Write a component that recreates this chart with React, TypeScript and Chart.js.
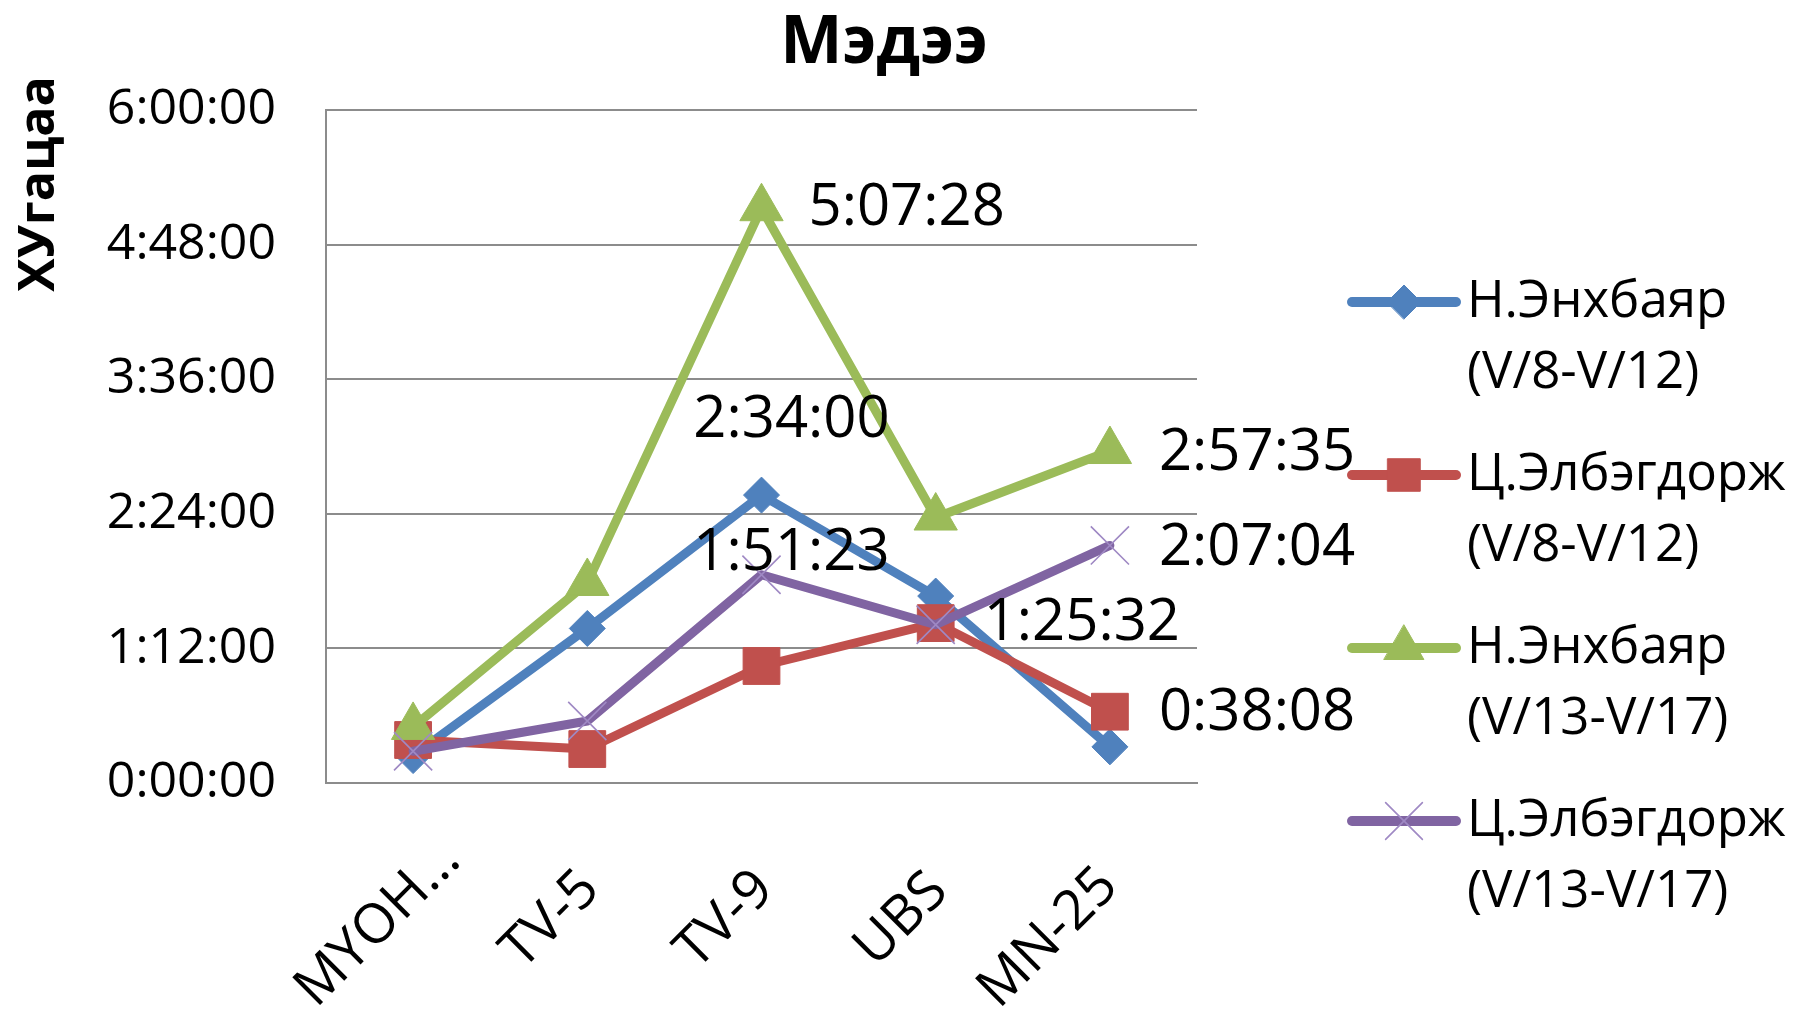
import React, { useEffect, useRef } from 'react';
import { Chart, registerables } from 'chart.js';
import { drawPoint } from 'chart.js/helpers';

Chart.register(...registerables);

// ---------- data (values in seconds) ----------
const chartTitle = 'Мэдээ';
const yAxisTitle = 'ХУгацаа';
const categories = ['МҮОН...', 'TV-5', 'TV-9', 'UBS', 'MN-25'];
const seriesNameLines = [
  ['Н.Энхбаяр', '(V/8-V/12)'],
  ['Ц.Элбэгдорж', '(V/8-V/12)'],
  ['Н.Энхбаяр', '(V/13-V/17)'],
  ['Ц.Элбэгдорж', '(V/13-V/17)'],
];
const enkhbayarA = [880, 4960, 9240, 6000, 1160];
const elbegdorjA = [1380, 1090, 3755, 5132, 2288];
const enkhbayarB = [1800, 6420, 18448, 8520, 10655];
const elbegdorjB = [1020, 1990, 6683, 5080, 7624];
const yTickValues = [0, 4320, 8640, 12960, 17280, 21600];
// data labels: [series index, category index]
const labelledPoints = [
  [2, 2], [0, 2], [3, 2], [2, 4], [3, 4], [1, 3], [1, 4],
];

// ---------- styles ----------
const FONT = '"Open Sans", "Liberation Sans", sans-serif';
const colors = ['#4F81BD', '#C0504D', '#9BBB59', '#8064A2'];
const pointStyles = ['rectRot', 'rect', 'triangle', 'crossRot'];
const pointRadii = [18, 26, 25, 27];
const pointBorderWidths = [1, 1, 1, 1.6];
const legendRadii = [17, 23, 23, 26];
const labelOffsets = [
  { dx: 47, dy: 0, align: 'left' },
  { dx: 30, dy: -75, align: 'center' },
  { dx: 30, dy: -21, align: 'center' },
  { dx: 49, dy: 2, align: 'left' },
  { dx: 49, dy: 3, align: 'left' },
  { dx: 48, dy: 0, align: 'left' },
  { dx: 49, dy: 2, align: 'left' },
];
const xLabelShifts = [[15, -27], [-20, 2], [-20, 2], [-20, 4], [-24, -1]];

const fmt = (s: number) => {
  const h = Math.floor(s / 3600);
  const m = Math.floor((s % 3600) / 60);
  const sec = Math.round(s % 60);
  return `${h}:${String(m).padStart(2, '0')}:${String(sec).padStart(2, '0')}`;
};

const decorPlugin = {
  id: 'decor',
  afterDatasetsDraw(chart: any) {
    const ctx = chart.ctx;
    ctx.save();
    ctx.fillStyle = '#000';
    ctx.font = `58px ${FONT}`;
    ctx.textBaseline = 'middle';
    labelledPoints.forEach(([ds, i], k) => {
      const pt = chart.getDatasetMeta(ds).data[i];
      const v = chart.data.datasets[ds].data[i];
      const o = labelOffsets[k];
      ctx.textAlign = o.align;
      ctx.fillText(fmt(v), pt.x + o.dx, pt.y + o.dy);
    });
    ctx.restore();
  },
  afterDraw(chart: any) {
    const ctx = chart.ctx;
    ctx.save();
    ctx.fillStyle = '#000';
    // category labels, rotated
    const xs = chart.scales.x;
    ctx.font = `55px ${FONT}`;
    ctx.textAlign = 'right';
    ctx.textBaseline = 'middle';
    chart.data.labels.forEach((c: string, i: number) => {
      const x = xs.getPixelForValue(i);
      ctx.save();
      ctx.translate(x + xLabelShifts[i][0], xs.top + 72 + xLabelShifts[i][1]);
      ctx.rotate(-Math.PI / 4);
      ctx.fillText(c, 0, 33);
      ctx.restore();
    });
    // title
    ctx.font = `bold 66px ${FONT}`;
    ctx.textAlign = 'center';
    ctx.textBaseline = 'middle';
    ctx.fillText(chartTitle, 884, 44);
    // y axis title
    ctx.save();
    ctx.translate(40, 184);
    ctx.rotate(-Math.PI / 2);
    ctx.font = `bold 50px ${FONT}`;
    ctx.fillText(yAxisTitle, 0, 0);
    ctx.restore();
    // legend
    chart.data.datasets.forEach((d: any, i: number) => {
      const y1 = 302 + i * 173;
      ctx.strokeStyle = d.borderColor;
      ctx.lineWidth = 10;
      ctx.lineCap = 'round';
      ctx.beginPath();
      ctx.moveTo(1352, y1);
      ctx.lineTo(1456, y1);
      ctx.stroke();
      ctx.fillStyle = d.pointBackgroundColor;
      ctx.strokeStyle = d.pointBorderColor;
      ctx.lineWidth = pointBorderWidths[i];
      drawPoint(ctx, { pointStyle: pointStyles[i], radius: legendRadii[i], borderWidth: pointBorderWidths[i], rotation: 0 }, 1404, y1);
      ctx.fillStyle = '#000';
      ctx.font = `51px ${FONT}`;
      ctx.textAlign = 'left';
      ctx.textBaseline = 'middle';
      ctx.fillText(seriesNameLines[i][0], 1467, y1);
      ctx.fillText(seriesNameLines[i][1], 1467, y1 + 71);
    });
    ctx.restore();
  },
};

export default function App() {
  const ref = useRef<HTMLCanvasElement>(null);
  useEffect(() => {
    const allSeries = [enkhbayarA, elbegdorjA, enkhbayarB, elbegdorjB];
    const chart = new Chart(ref.current!, {
      type: 'line',
      data: {
        labels: categories,
        datasets: allSeries.map((vals, i) => ({
          label: seriesNameLines[i].join(' '),
          data: vals,
          borderColor: colors[i],
          backgroundColor: colors[i],
          pointBackgroundColor: colors[i],
          pointBorderColor: i === 3 ? '#9F89C4' : colors[i],
          pointStyle: pointStyles[i],
          pointRadius: pointRadii[i],
          pointHoverRadius: pointRadii[i],
          pointBorderWidth: pointBorderWidths[i],
          borderWidth: 9,
          borderJoinStyle: 'round',
          borderCapStyle: 'round',
          tension: 0,
          fill: false,
          order: 4 - i,
        })),
      },
      options: {
        animation: false,
        responsive: true,
        maintainAspectRatio: false,
        layout: { padding: { left: 0, top: 110, right: 603, bottom: 0 } },
        plugins: { legend: { display: false }, title: { display: false }, tooltip: { enabled: false } },
        scales: {
          x: {
            type: 'category',
            offset: true,
            grid: { display: false, drawTicks: false },
            border: { display: true, color: '#8c8c8c', width: 2 },
            ticks: { display: false },
            afterFit: (s: any) => { s.height = 244; },
          },
          y: {
            min: 0,
            max: 21600,
            grid: { color: '#8c8c8c', lineWidth: 2, drawTicks: false },
            border: { display: true, color: '#8c8c8c', width: 2 },
            ticks: {
              color: '#000',
              font: { family: FONT, size: 50 },
              padding: 50,
              callback: (v: any) => fmt(Number(v)),
            },
            afterBuildTicks: (s: any) => { s.ticks = yTickValues.map((v) => ({ value: v })); },
            afterFit: (s: any) => { s.width = 326; },
          },
        },
      },
      plugins: [decorPlugin],
    });
    return () => chart.destroy();
  }, []);
  return (
    <div style={{ position: 'fixed', left: 0, top: 0, width: 1800, height: 1027, background: '#fff' }}>
      <canvas ref={ref} />
    </div>
  );
}
